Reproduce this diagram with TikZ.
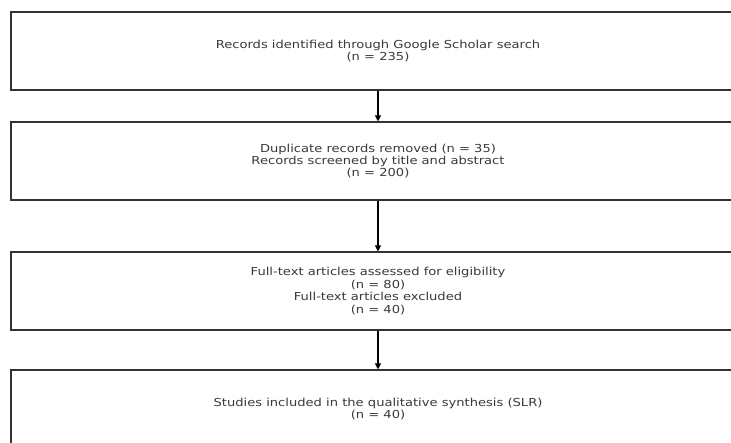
\documentclass[tikz,border=0pt]{standalone}
\usepackage{fontspec}
\setmainfont[FakeStretch=1.19]{DejaVu Sans}
\usetikzlibrary{arrows.meta}
\definecolor{boxline}{HTML}{333333}
\definecolor{txt}{HTML}{3A3A3A}
\tikzset{
  stagebox/.style={draw=boxline, line width=1.2pt, rectangle, minimum width=734pt, minimum height=78pt,
    align=center, text=txt, font=\fontsize{11}{12.4}\selectfont, inner sep=0pt},
  flowarrow/.style={draw=black, line width=1.1pt, -{Triangle[length=6pt,width=6pt]}}
}
\begin{document}
\begin{tikzpicture}[x=1pt,y=1pt]
\useasboundingbox (0,0) rectangle (731,-442);
\clip (0,0) rectangle (731,-442);
\fill[white] (0,0) rectangle (731,-442);
\node[stagebox] (b1) at (378,-51) {Records identified through Google Scholar search\\(n = 235)};
\node[stagebox] (b2) at (378,-161) {Duplicate records removed (n = 35)\\Records screened by title and abstract\\(n = 200)};
\node[stagebox] (b3) at (378,-291) {Full-text articles assessed for eligibility\\(n = 80)\\Full-text articles excluded\\(n = 40)};
\node[stagebox] (b4) at (378,-409) {Studies included in the qualitative synthesis (SLR)\\(n = 40)};
\draw[flowarrow] (b1.south) -- (b2.north);
\draw[flowarrow] (b2.south) -- (b3.north);
\draw[flowarrow] (b3.south) -- (b4.north);
\end{tikzpicture}
\end{document}
